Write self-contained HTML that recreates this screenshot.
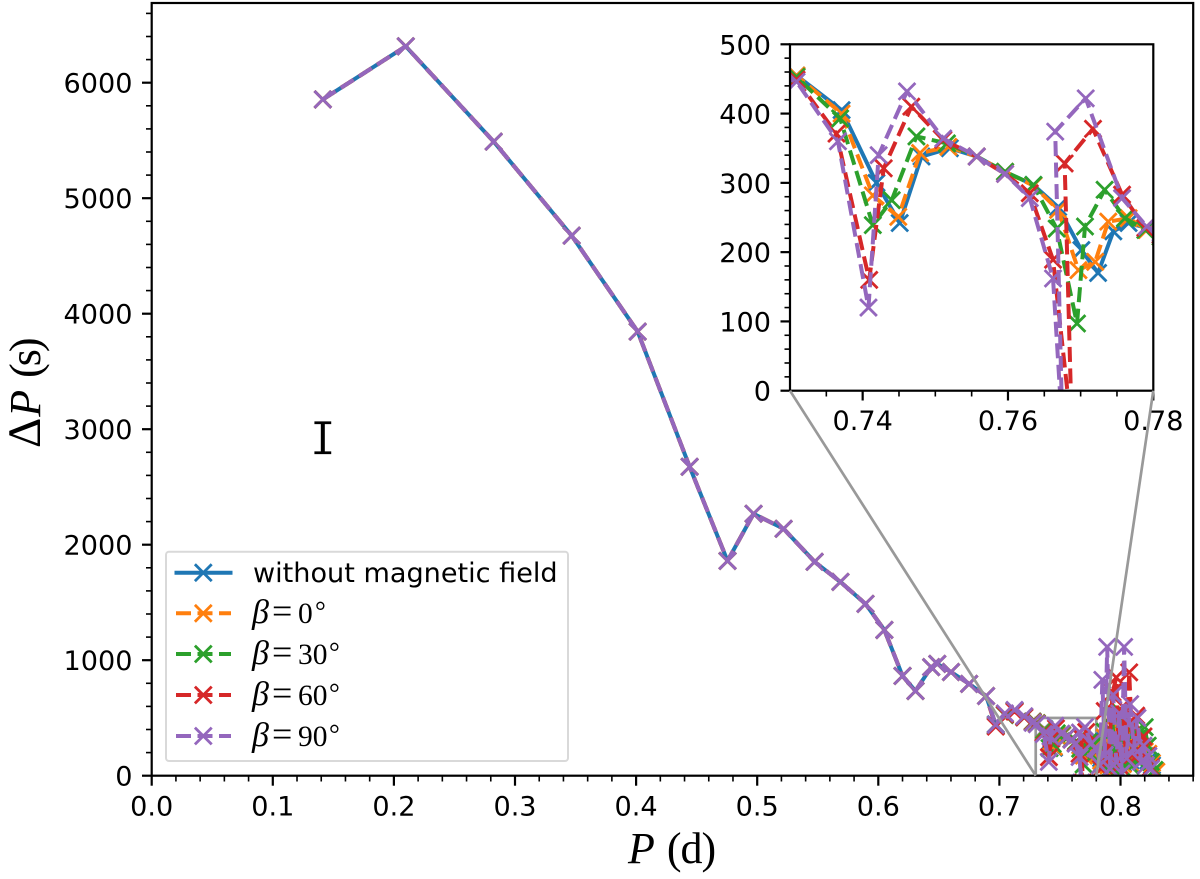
<!DOCTYPE html>
<html>
<head>
<meta charset="utf-8">
<style>
html,body{margin:0;padding:0;background:#fff}
svg{display:block}
.tick{font-family:"DejaVu Sans","Liberation Sans",sans-serif;font-size:27.1px;fill:#000}
.serif{font-family:"Liberation Serif",serif;fill:#000}
</style>
</head>
<body>
<svg id="chart" xmlns="http://www.w3.org/2000/svg" width="1200" height="879" viewBox="0 0 1200 879">
<defs>
<clipPath id="clip-main"><rect x="151.7" y="3" width="1041.5" height="772.7"/></clipPath>
<clipPath id="clip-inset"><rect x="790" y="44.3" width="363.3" height="346.4"/></clipPath>
</defs>
<rect x="0" y="0" width="1200" height="879" fill="#fff"/>
<g id="connectors"></g>
<g id="main-series" clip-path="url(#clip-main)"></g>
<g id="main-axes"></g>
<text class="serif" transform="translate(628,863)" font-size="44"><tspan font-style="italic">P</tspan><tspan dx="12" letter-spacing="-1">(d)</tspan></text>
<text class="serif" transform="translate(40,448) rotate(-90)" font-size="44"><tspan font-size="47">Δ</tspan><tspan dx="1" font-style="italic">P</tspan><tspan dx="12" letter-spacing="-3">(s)</tspan></text>
<g>
<rect x="166" y="551.7" width="402" height="209.3" rx="3" fill="#fff" fill-opacity="0.8" stroke="#d9d9d9" stroke-width="2"/>
<g id="legend-samples"></g>
<text class="tick" x="253" y="582">without magnetic field</text>
<text class="serif" y="623" font-size="29.5"><tspan x="252" font-style="italic" font-size="34">β</tspan><tspan x="272" font-size="36">=</tspan><tspan x="298">0</tspan><tspan x="315" dy="-3" font-size="27">°</tspan></text>
<text class="serif" y="664" font-size="29.5"><tspan x="252" font-style="italic" font-size="34">β</tspan><tspan x="272" font-size="36">=</tspan><tspan x="298">30</tspan><tspan x="329" dy="-3" font-size="27">°</tspan></text>
<text class="serif" y="705" font-size="29.5"><tspan x="252" font-style="italic" font-size="34">β</tspan><tspan x="272" font-size="36">=</tspan><tspan x="298">60</tspan><tspan x="329" dy="-3" font-size="27">°</tspan></text>
<text class="serif" y="746" font-size="29.5"><tspan x="252" font-style="italic" font-size="34">β</tspan><tspan x="272" font-size="36">=</tspan><tspan x="298">90</tspan><tspan x="329" dy="-3" font-size="27">°</tspan></text>
</g>
<rect x="790" y="44.3" width="363.3" height="346.4" fill="#fff"/>
<g id="inset-series" clip-path="url(#clip-inset)"></g>
<g id="inset-axes"></g>
<g id="connectors-top"></g>
</svg>
<script>
// Shared long-period part (identical for all models)
const commonP = [0.1413,0.2098,0.2824,0.3468,0.4013,0.4442,0.4755,0.4970,0.5218,0.5474,0.5687,0.5894,0.6050,0.6200,0.6307,0.6437,0.6487,0.6600,0.6750,0.6890];
const commonDP = [5855,6315,5490,4676,3845,2675,1860,2268,2138,1852,1678,1488,1262,864,734,940,968,898,795,690];

const blueP = [0.697,0.7045,0.7125,0.7205,0.7275,0.7309,0.7371,0.7419,0.7451,0.7481,0.7520,0.7557,0.7596,0.7635,0.7669,0.7701,0.7724,0.7745,0.7766,0.7791,0.781,0.784,0.787,0.790,0.793,0.796,0.799,0.802,0.805,0.808,0.811,0.814,0.817,0.820,0.823,0.826,0.829];
const blueDP = [445,530,565,510,470,455,405,300,242,338,350,338,316,297,265,203,170,230,242,235,225,150,300,120,380,90,420,110,330,130,290,150,240,170,130,90,40];

const orangeP = [0.697,0.7045,0.7125,0.7205,0.7275,0.7309,0.7371,0.7414,0.7449,0.7479,0.7518,0.7557,0.7596,0.7635,0.7669,0.7697,0.7720,0.7738,0.7766,0.7791,0.781,0.784,0.787,0.790,0.793,0.796,0.799,0.802,0.805,0.808,0.811,0.814,0.817,0.820,0.823,0.826,0.8296];
const orangeDP = [440,530,560,510,468,455,400,282,251,343,352,338,316,296,261,174,186,244,249,232,222,130,330,90,430,70,470,100,350,110,300,160,250,210,190,110,35];

const greenP = [0.697,0.7045,0.7125,0.7205,0.7275,0.7309,0.7369,0.7414,0.7440,0.7474,0.7516,0.7557,0.7596,0.7635,0.7667,0.7695,0.7706,0.7733,0.7761,0.7789,0.781,0.784,0.787,0.790,0.793,0.796,0.799,0.802,0.805,0.808,0.811,0.814,0.817,0.820,0.8225,0.825,0.828];
const greenDP = [432,525,560,505,465,453,393,239,275,367,357,338,316,297,234,97,237,290,249,232,222,100,380,50,520,30,560,60,420,90,360,130,320,420,260,120,50];

const redP = [0.697,0.7045,0.7125,0.7205,0.7275,0.7309,0.7364,0.7409,0.7429,0.7467,0.7511,0.7557,0.7596,0.7630,0.7662,0.7688,0.7678,0.7717,0.7757,0.7789,0.781,0.784,0.787,0.790,0.7935,0.7965,0.799,0.802,0.8045,0.8072,0.810,0.813,0.816,0.819,0.822,0.825];
const redDP = [425,530,555,505,462,449,371,160,321,410,362,338,313,285,189,-60,328,378,283,235,225,60,560,130,720,850,90,600,160,895,180,520,200,340,170,70];

const purpleP = [0.697,0.7045,0.7125,0.7205,0.7275,0.7309,0.7366,0.7408,0.7422,0.7461,0.7511,0.7557,0.7596,0.7630,0.7662,0.7675,0.7665,0.7707,0.7757,0.7791,0.781,0.783,0.785,0.787,0.789,0.7915,0.794,0.7965,0.799,0.801,0.803,0.805,0.808,0.811,0.814,0.817,0.819,0.821,0.823,0.825];
const purpleDP = [440,540,570,515,458,446,360,120,340,432,364,338,313,278,162,-60,374,422,278,237,228,90,830,180,1115,60,700,120,540,20,1115,150,620,240,500,120,260,90,170,60];

const seriesNames = ["without-field","beta-0","beta-30","beta-60","beta-90"];
const seriesColors = ["#1f77b4","#ff7f0e","#2ca02c","#d62728","#9467bd"];

// Axis tick values
const mainXMajor = [0,0.1,0.2,0.3,0.4,0.5,0.6,0.7,0.8];
const mainXLabels = ["0.0","0.1","0.2","0.3","0.4","0.5","0.6","0.7","0.8"];
const mainXMinor = [0.02,0.04,0.06,0.08,0.12,0.14,0.16,0.18,0.22,0.24,0.26,0.28,0.32,0.34,0.36,0.38,0.42,0.44,0.46,0.48,0.52,0.54,0.56,0.58,0.62,0.64,0.66,0.68,0.72,0.74,0.76,0.78,0.82,0.84,0.86];
const mainYMajor = [0,1000,2000,3000,4000,5000,6000];
const mainYMinor = [200,400,600,800,1200,1400,1600,1800,2200,2400,2600,2800,3200,3400,3600,3800,4200,4400,4600,4800,5200,5400,5600,5800,6200,6400,6600];
const insetXMajor = [0.74,0.76,0.78];
const insetXMinor = [0.735,0.745,0.75,0.755,0.765,0.77,0.775];
const insetYMajor = [0,100,200,300,400,500];
const insetYMinor = [20,40,60,80,120,140,160,180,220,240,260,280,320,340,360,380,420,440,460,480];

// Representative error bar
const errP = [0.1413];
const errCenter = [2926];
const errHalf = [130];

// Inset view limits
const insetRangeX = [0.73,0.78];
const insetRangeY = [0,500];

const SVGNS = "http://www.w3.org/2000/svg";
const mainX = v => 151.7 + v * 1211;
const mainY = v => 775.7 - v * 0.1155;
const insetX = v => 790 + (v - insetRangeX[0]) / (insetRangeX[1] - insetRangeX[0]) * 363.3;
const insetY = v => 390.7 - (v - insetRangeY[0]) / (insetRangeY[1] - insetRangeY[0]) * 346.4;

function mk(tag, attrs, parent) {
  const el = document.createElementNS(SVGNS, tag);
  for (const k in attrs) el.setAttribute(k, attrs[k]);
  parent.appendChild(el);
  return el;
}

function drawMarker(parent, cx, cy, color) {
  const r = 8.4;
  const m = mk("path", {d:`M${cx-r} ${cy-r}L${cx+r} ${cy+r}M${cx-r} ${cy+r}L${cx+r} ${cy-r}`, stroke:color, "stroke-width":2.8, fill:"none"}, parent);
  
  
}

function drawSeries(parent, Ps, DPs, sx, sy, name, color, dashed) {
  const g = mk("g", {}, parent);
  
  
  const pts = Ps.map((p, i) => sx(p).toFixed(2) + "," + sy(DPs[i]).toFixed(2)).join(" ");
  const line = mk("polyline", {points:pts, fill:"none", stroke:color, "stroke-width":4, "stroke-linejoin":"round"}, g);
  
  
  if (dashed) line.setAttribute("stroke-dasharray", "15 6.5");
  Ps.forEach((p, i) => drawMarker(g, sx(p), sy(DPs[i]), color));
}

const tailP = [blueP, orangeP, greenP, redP, purpleP];
const tailDP = [blueDP, orangeDP, greenDP, redDP, purpleDP];
const mainSeries = document.getElementById("main-series");
const insetSeries = document.getElementById("inset-series");
seriesNames.forEach((name, i) => {
  drawSeries(mainSeries, commonP.concat(tailP[i]), commonDP.concat(tailDP[i]), mainX, mainY, name, seriesColors[i], i > 0);
  drawSeries(insetSeries, commonP.concat(tailP[i]), commonDP.concat(tailDP[i]), insetX, insetY, name, seriesColors[i], i > 0);
});

// Error bar
const errG = mk("g", {stroke:"#000", fill:"none"}, mainSeries);


errP.forEach((p, i) => {
  const x = mainX(p), y0 = mainY(errCenter[i] - errHalf[i]), y1 = mainY(errCenter[i] + errHalf[i]);
  mk("path", {d:`M${x} ${y0}L${x} ${y1}`, "stroke-width":4}, errG);
  mk("path", {d:`M${x-8.4} ${y0}L${x+8.4} ${y0}M${x-8.4} ${y1}L${x+8.4} ${y1}`, "stroke-width":2.8}, errG);
});

function tickLine(parent, x1, y1, x2, y2, w, name) {
  const t = mk("line", {x1:x1, y1:y1, x2:x2, y2:y2, stroke:"#000", "stroke-width":w}, parent);
  
  
}

function tickText(parent, x, y, anchor, label, name) {
  const t = mk("text", {x:x, y:y, "text-anchor":anchor, class:"tick"}, parent);
  t.textContent = label;
  
  
}

// Main axes
const mainAxes = document.getElementById("main-axes");
mainXMinor.forEach(v => tickLine(mainAxes, mainX(v), 775.7, mainX(v), 781.5, 1.6, "x-minor-tick"));
mainXMajor.forEach((v, i) => {
  tickLine(mainAxes, mainX(v), 775.7, mainX(v), 785.7, 2.2, "x-major-tick");
  tickText(mainAxes, mainX(v), 815.5, "middle", mainXLabels[i], "x-tick-label");
});
mainYMinor.forEach(v => tickLine(mainAxes, 151.7, mainY(v), 146, mainY(v), 1.6, "y-minor-tick"));
mainYMajor.forEach(v => {
  tickLine(mainAxes, 151.7, mainY(v), 142, mainY(v), 2.2, "y-major-tick");
  tickText(mainAxes, 132.5, mainY(v) + 10, "end", String(v), "y-tick-label");
});
const mainFrame = mk("rect", {x:151.7, y:3, width:1041.5, height:772.7, fill:"none", stroke:"#000", "stroke-width":2.2}, mainAxes);



// Inset axes
const insetAxes = document.getElementById("inset-axes");
insetXMinor.forEach(v => tickLine(insetAxes, insetX(v), 390.7, insetX(v), 396.5, 1.6, "inset-x-minor-tick"));
insetXMajor.forEach(v => {
  tickLine(insetAxes, insetX(v), 390.7, insetX(v), 400.5, 2.2, "inset-x-major-tick");
  tickText(insetAxes, insetX(v), 430, "middle", v.toFixed(2), "inset-x-tick-label");
});
insetYMinor.forEach(v => tickLine(insetAxes, 790, insetY(v), 784.5, insetY(v), 1.6, "inset-y-minor-tick"));
insetYMajor.forEach(v => {
  tickLine(insetAxes, 790, insetY(v), 780.5, insetY(v), 2.2, "inset-y-major-tick");
  tickText(insetAxes, 771, insetY(v) + 10, "end", String(v), "inset-y-tick-label");
});
const insetFrame = mk("rect", {x:790, y:44.3, width:363.3, height:346.4, fill:"none", stroke:"#000", "stroke-width":2.2}, insetAxes);



// Zoom indicator
const connectors = document.getElementById("connectors");
const box = mk("rect", {x:mainX(insetRangeX[0]), y:mainY(insetRangeY[1]), width:mainX(insetRangeX[1]) - mainX(insetRangeX[0]), height:mainY(insetRangeY[0]) - mainY(insetRangeY[1]), fill:"none", stroke:"#999", "stroke-width":2.7}, connectors);


const connTop = document.getElementById("connectors-top");
const connLeft = mk("line", {x1:790, y1:390.7, x2:mainX(insetRangeX[0]), y2:775.7, stroke:"#999", "stroke-width":2.7}, connTop);


const connRight = mk("line", {x1:1153.3, y1:390.7, x2:mainX(insetRangeX[1]), y2:775.7, stroke:"#999", "stroke-width":2.7}, connTop);



// Legend samples
const legendSamples = document.getElementById("legend-samples");
const legendRowY = [572.7, 613.3, 654, 695, 736];
seriesNames.forEach((name, i) => {
  const l = mk("line", {x1:174.5, y1:legendRowY[i], x2:232.5, y2:legendRowY[i], stroke:seriesColors[i], "stroke-width":4}, legendSamples);
  
  
  if (i > 0) { l.setAttribute("x1", 176); l.setAttribute("x2", 231); l.setAttribute("stroke-dasharray", "15 6.5"); }
  drawMarker(legendSamples, 203.3, legendRowY[i], seriesColors[i]);
});
</script>
</body>
</html>
